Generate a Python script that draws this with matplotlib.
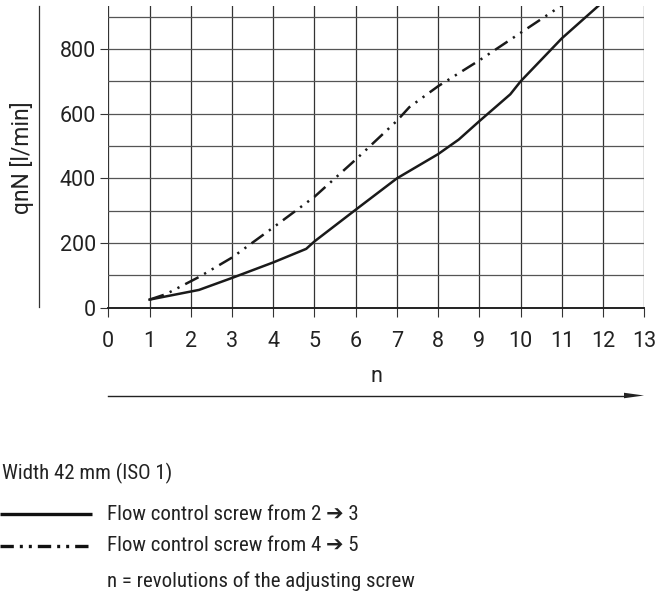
import matplotlib
matplotlib.use("Agg")
import matplotlib.pyplot as plt
from matplotlib import font_manager
from matplotlib.lines import Line2D

# ---- data ----
n_ticks = list(range(0, 14))
q_major = [0, 200, 400, 600, 800]
q_minor = [100, 200, 300, 400, 500, 600, 700, 800, 900]

n_solid = [1, 2.2, 3, 4, 4.8, 5, 6, 7, 8, 8.5, 9, 9.75, 10, 11, 11.9]
q_solid = [25, 55, 92, 140, 182, 205, 303, 400, 475, 520, 577, 660, 700, 833, 935]

n_dash = [1, 1.4, 2.2, 3, 4, 5, 6, 7, 7.3, 8, 9, 10, 11]
q_dash = [25, 42, 95, 155, 248, 343, 458, 578, 620, 685, 765, 850, 935]

title_text = "Width 42 mm (ISO 1)"
label_solid = "Flow control screw from 2 \u2794 3"
label_dash = "Flow control screw from 4 \u2794 5"
note_text = "n = revolutions of the adjusting screw"
ylabel_text = "qnN [l/min]"
xlabel_text = "n"

# ---- font ----
available = {f.name for f in font_manager.fontManager.ttflist}
narrow = "Open Sans"
for cand in ["Roboto Condensed", "Liberation Sans Narrow", "Open Sans Condensed", "Open Sans"]:
    if cand in available:
        narrow = cand
        break
wide = "Roboto" if "Roboto" in available else "Open Sans"
plt.rcParams["font.family"] = [narrow, "DejaVu Sans"]
NARROW = [narrow, "DejaVu Sans"]
WIDE = [wide, "DejaVu Sans"]

W, H = 659, 595
fig = plt.figure(figsize=(W / 100, H / 100), dpi=100)

def fx(px):
    return px / W

def fy(py):
    return 1 - py / H

ax_left, ax_right, ax_top, ax_bot = 108.3, 644.3, 6.0, 307.7
ax = fig.add_axes([fx(ax_left), fy(ax_bot), (ax_right - ax_left) / W, (ax_bot - ax_top) / H])

ax.set_xlim(0, 13)
ax.set_ylim(0, 933)

ax.set_xticks(n_ticks)
ax.set_xticklabels([str(v) for v in n_ticks], family=WIDE)
ax.set_yticks(q_major)
ax.set_yticklabels([str(v) for v in q_major], family=WIDE)
ax.set_yticks(q_minor, minor=True)

ax.grid(True, which="major", axis="x", color="#333333", lw=0.9)
ax.grid(True, which="both", axis="y", color="#555555", lw=0.9)
ax.set_axisbelow(True)

for s in ["top", "right", "left"]:
    ax.spines[s].set_visible(False)
ax.spines["bottom"].set_linewidth(1.4)
ax.spines["bottom"].set_color("#222222")

ax.tick_params(axis="x", which="major", direction="out", length=6.5, width=0.8,
               color="#333333", labelsize=15.5, pad=10, labelcolor="#222222")
ax.tick_params(axis="y", which="major", direction="out", length=6, width=0.8,
               color="#333333", labelsize=15.5, pad=3, labelcolor="#222222")
ax.tick_params(axis="y", which="minor", length=0)

ax.plot(n_solid, q_solid, color="#1a1a1a", lw=1.8, solid_joinstyle="round", clip_on=True)
ax.plot(n_dash, q_dash, color="#1a1a1a", lw=1.8,
        linestyle=(0, (6, 2.6, 0.9, 2.6, 0.9, 2.6)), dash_capstyle="butt", clip_on=True)

# y label and side line
fig.text(fx(22), fy(158), ylabel_text, rotation=90, ha="center", va="center",
         fontsize=16.5, color="#222222", family=WIDE)
fig.add_artist(Line2D([fx(39.3), fx(39.3)], [fy(6), fy(306.7)], color="#333333", lw=0.9))

# x label and arrow
fig.text(fx(376), fy(376), xlabel_text, ha="center", va="center", fontsize=15.5,
         color="#222222", family=WIDE)
fig.add_artist(Line2D([fx(108.3), fx(625)], [fy(395.5), fy(395.5)], color="#222222", lw=1.0))
fig.add_artist(matplotlib.patches.FancyArrow(
    fx(624), fy(395.5), fx(644) - fx(624), 0, width=0, head_width=5.5 / H,
    head_length=fx(20), length_includes_head=True, color="#222222", lw=0))

# legend block
fig.text(fx(2), fy(473), title_text, ha="left", va="center", fontsize=15, color="#222222")
fig.add_artist(Line2D([fx(0), fx(92)], [fy(514), fy(514)], color="#111111", lw=2.4,
                      solid_capstyle="butt"))
fig.text(fx(107), fy(514), label_solid, ha="left", va="center", fontsize=15, color="#222222")
fig.add_artist(Line2D([fx(0), fx(92)], [fy(545.7), fy(545.7)], color="#111111", lw=2.4,
                      linestyle=(0, (4, 1.8, 0.9, 1.8, 0.9, 1.8)), dash_capstyle="butt"))
fig.text(fx(107), fy(545.7), label_dash, ha="left", va="center", fontsize=15, color="#222222")
fig.text(fx(107), fy(581), note_text, ha="left", va="center", fontsize=15, color="#222222")

fig.savefig("out.png", dpi=100)
